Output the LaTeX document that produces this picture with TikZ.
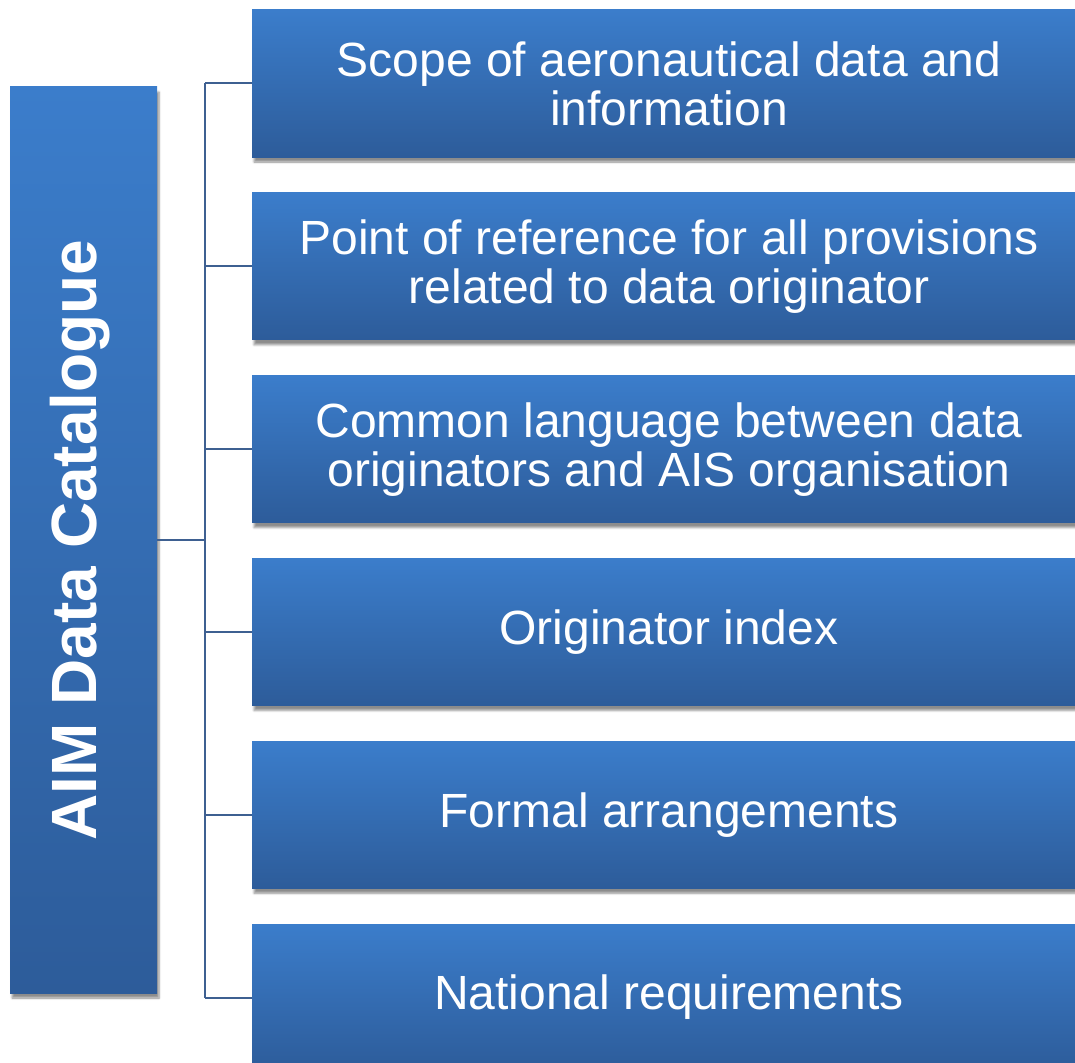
\documentclass[tikz,border=0pt]{standalone}
\usepackage{fontspec}
\setmainfont{Liberation Sans}
\usetikzlibrary{shadows.blur}
\definecolor{boxtop}{HTML}{3B7DCB}
\definecolor{boxbottom}{HTML}{2D5C9A}
\definecolor{linkblue}{HTML}{3E6091}
\tikzset{
    itembox/.style = {rectangle, minimum width = 834, minimum height = 147,
        top color = boxtop, bottom color = boxbottom, text = white, align = center,
        inner sep = 0pt, font = \fontsize{48}{49}\selectfont,
        blur shadow = {shadow xshift = 2pt, shadow yshift = -5pt, shadow blur steps = 6, shadow opacity = 45}},
    catbox/.style = {rectangle, minimum width = 147, minimum height = 906,
        top color = boxtop, bottom color = boxbottom, inner sep = 0pt,
        blur shadow = {shadow xshift = 2pt, shadow yshift = -5pt, shadow blur steps = 6, shadow opacity = 45}},
    link/.style = {draw = linkblue, line width = 2pt}
}
\begin{document}
\begin{tikzpicture}[x = 1pt, y = -1pt]
    \useasboundingbox (0,0) rectangle (1075,1062);
    % left column
    \node[catbox] (cat) at (83.5,540) {};
    \node[rotate = 90, text = white, font = \fontsize{64}{70}\selectfont\bfseries] (cattext) at (80,540) {AIM Data Catalogue};
    % right column
    \foreach \i/\txt in {1/{Scope of aeronautical data and\\information},
                         2/{Point of reference for all provisions\\related to data originator},
                         3/{Common language between data\\originators and AIS organisation},
                         4/{Originator index},
                         5/{Formal arrangements},
                         6/{National requirements}}
        \node[itembox] (box\i) at (669,83.5+182.8*\i-182.8) {\txt};
    % connectors
    \coordinate (bus) at (205,540);
    \draw[link] (cat.east |- bus) -- (bus);
    \draw[link] (bus |- box1.west) -- (bus |- box6.west);
    \foreach \i in {1, ..., 6}
        \draw[link] (bus |- box\i.west) -- (box\i.west);
\end{tikzpicture}
\end{document}
